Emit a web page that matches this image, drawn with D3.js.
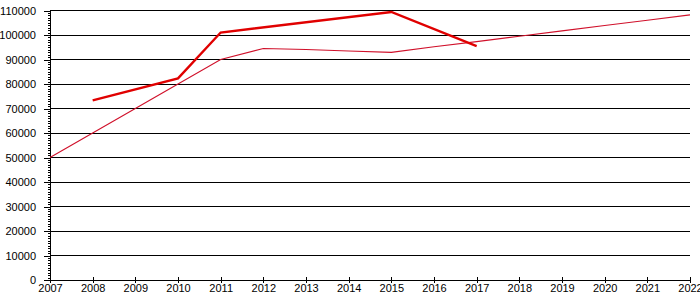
<!DOCTYPE html>
<html>
<head>
<meta charset="utf-8">
<script src="https://cdn.jsdelivr.net/npm/d3@7"></script>
<style>
  body { margin:0; background:#fff; }
  svg text { font-family: "Liberation Sans", Arial, sans-serif; font-size:11px; fill:#000; }
</style>
</head>
<body>
<svg id="chart"></svg>
<script>
// data
var years = [2007,2008,2009,2010,2011,2012,2013,2014,2015,2016,2017,2018,2019,2020,2021,2022];
var trendValues = [50000,60000,70000,80000,90000,94500,94100,93500,92900,95200,97300,99500,101700,103900,106000,108200];
var actualYears = [2008,2010,2011,2015,2017];
var actualValues = [73300,82300,101000,109400,95500];
var yTicks = [0,10000,20000,30000,40000,50000,60000,70000,80000,90000,100000,110000];

var screen = { width:700, height:300 };
var margins = { top:10.5, bottom:20, left:50, right:10 };

var svg = d3.select("#chart")
            .attr("width",screen.width)
            .attr("height",screen.height);

var xScale = d3.scaleLinear()
               .domain([2007,2022])
               .range([margins.left, screen.width - margins.right]);
var yScale = d3.scaleLinear()
               .domain([0,110000])
               .range([screen.height - margins.bottom, margins.top]);

// gridlines
svg.append("g").classed("grid",true)
   .selectAll("line")
   .data(yTicks.slice(1))
   .enter()
   .append("line")
   .attr("x1",xScale(2007))
   .attr("x2",xScale(2022))
   .attr("y1",function(d){ return yScale(d); })
   .attr("y2",function(d){ return yScale(d); })
   .attr("stroke","#000")
   .attr("stroke-width",1)
   .attr("shape-rendering","crispEdges");

// minor ticks on y axis
var minorAxis = d3.axisLeft(yScale)
                  .ticks(110)
                  .tickSize(2)
                  .tickFormat("");
svg.append("g")
   .attr("transform","translate("+margins.left+",0)")
   .call(minorAxis)
   .call(function(g){ g.select(".domain").remove(); });

var yAxis = d3.axisLeft(yScale)
              .tickValues(yTicks)
              .tickSizeInner(6)
              .tickSizeOuter(0)
              .tickPadding(8)
              .tickFormat(d3.format("d"));
svg.append("g").classed("yAxis",true)
   .attr("transform","translate("+margins.left+",0)")
   .call(yAxis);

var xAxis = d3.axisBottom(xScale)
              .tickValues(years)
              .tickSizeInner(3)
              .tickSizeOuter(0)
              .tickPadding(1)
              .tickFormat(d3.format("d"));
svg.append("g").classed("xAxis",true)
   .attr("transform","translate(0,"+yScale(0)+")")
   .call(xAxis)
   .call(function(g){ g.selectAll(".tick line").attr("y1",-3); });

svg.selectAll(".domain").attr("stroke","#000").attr("stroke-width",1).attr("shape-rendering","crispEdges");
svg.selectAll(".tick line").attr("stroke","#000").attr("shape-rendering","crispEdges");
svg.selectAll(".tick text").attr("fill","#000");

var line = d3.line()
             .x(function(d){ return xScale(d[0]); })
             .y(function(d){ return yScale(d[1]); });

svg.append("path")
   .datum(d3.zip(years,trendValues))
   .attr("d",line)
   .attr("fill","none")
   .attr("stroke","#d0102a")
   .attr("stroke-width",1.1);

svg.append("path")
   .datum(d3.zip(actualYears,actualValues))
   .attr("d",line)
   .attr("fill","none")
   .attr("stroke","#e00000")
   .attr("stroke-width",2.4);
</script>
</body>
</html>
